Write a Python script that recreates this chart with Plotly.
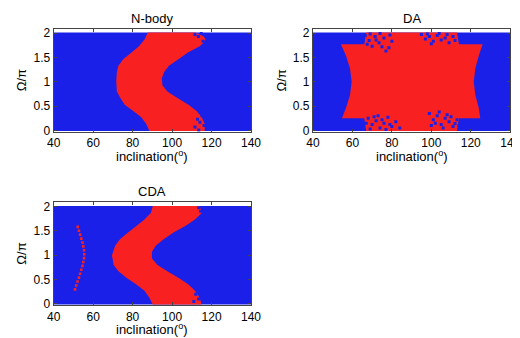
import plotly.graph_objects as go

BLUE = "#1a20e8"
RED = "#f82020"

# grid extent (inclination deg, Omega/pi)
INC_LIM = [40, 140]
OMEGA_LIM = [-0.01, 2.01]

# N-body: left / right edge of the red band
NB_OMEGA_L = [-0.01, 0.13, 0.27, 0.4, 0.53, 0.67, 0.8, 1.0, 1.2, 1.33, 1.47, 1.6, 1.73, 1.87, 2.01]
NB_LEFT = [88.5, 86.9, 84.4, 80.3, 76.0, 73.7, 72.0, 71.7, 72.0, 72.8, 75.3, 79.4, 83.2, 86.0, 87.7]
NB_OMEGA_R = [-0.01, 0.13, 0.27, 0.4, 0.53, 0.67, 0.8, 0.93, 1.07, 1.2, 1.33, 1.47, 1.6, 1.73, 1.8, 1.87, 1.93, 2.01]
NB_RIGHT = [116.5, 116.6, 115.0, 112.4, 108.3, 102.5, 97.6, 95.1, 94.8, 96.0, 98.4, 103.4, 108.0, 114.0, 116.0, 117.0, 116.0, 112.0]
NB_HOLE_INC = [112.9, 114.1, 115.2, 111.6, 116.2, 113.5, 113.3, 115.7, 111.6, 114.8]
NB_HOLE_OMEGA = [0.23, 0.17, 0.30, 0.07, 0.10, 0.01, 1.93, 1.83, 1.97, 1.99]

# DA: outline of the red region
DA_INC = [67, 66, 54.7, 56.8, 58.8, 59.6, 58.8, 56.8, 54.2, 66, 67,
          113, 114, 126, 124, 122.3, 121.5, 122.3, 124, 124.8, 114, 113]
DA_OMEGA = [-0.01, 0.25, 0.25, 0.47, 0.73, 1.0, 1.27, 1.53, 1.77, 1.77, 2.01,
            2.01, 1.77, 1.77, 1.53, 1.27, 1.0, 0.73, 0.47, 0.25, 0.25, -0.01]
DA_HOLE_INC = [66.5, 68.5, 71.5, 73.5, 76, 70, 78.5, 67.5, 74, 80, 77, 65.5, 72, 79, 69, 75,
               95, 97, 99, 101, 103, 105, 107, 109, 111, 100, 104, 108, 112, 98,
               68, 70, 72, 74, 76, 78, 80, 82, 69, 73, 77, 71, 75, 79, 84, 67,
               99, 101, 103, 105, 107, 109, 111, 113, 100, 104, 106, 108, 110, 102, 112, 114]
DA_HOLE_OMEGA = [1.95, 1.85, 1.93, 1.80, 1.90, 1.73, 1.70, 1.77, 1.99, 1.83, 1.63, 1.85, 1.86, 1.96, 1.98, 1.72,
                 1.97, 1.88, 1.93, 1.83, 1.95, 1.86, 1.90, 1.80, 1.93, 1.78, 1.99, 1.97, 1.85, 1.98,
                 0.25, 0.12, 0.20, 0.05, 0.15, 0.27, 0.08, 0.18, 0.03, 0.30, 0.02, 0.28, 0.22, 0.12, 0.05, 0.15,
                 0.35, 0.22, 0.30, 0.12, 0.25, 0.18, 0.08, 0.22, 0.10, 0.38, 0.05, 0.32, 0.28, 0.15, 0.14, 0.10]

# CDA: left / right edge of the red band, plus the thin arc
CDA_OMEGA_L = [-0.01, 0.13, 0.27, 0.4, 0.53, 0.67, 0.8, 1.0, 1.2, 1.33, 1.47, 1.6, 1.73, 1.87, 2.01]
CDA_LEFT = [90.2, 88.5, 86.0, 81.9, 77.0, 72.8, 70.4, 69.5, 71.2, 73.7, 77.8, 81.9, 86.0, 89.3, 90.2]
CDA_OMEGA_R = [-0.01, 0.13, 0.27, 0.4, 0.53, 0.67, 0.8, 0.93, 1.07, 1.2, 1.33, 1.47, 1.6, 1.73, 1.87, 2.01]
CDA_RIGHT = [115.0, 114.0, 111.6, 108.3, 103.4, 97.6, 92.6, 89.8, 89.8, 91.8, 95.9, 100.9, 106.7, 111.6, 115.2, 114.0]
CDA_HOLE_INC = [112.0, 113.5, 111.0, 114.5, 113.5, 114.5]
CDA_HOLE_OMEGA = [0.20, 0.10, 0.05, 0.25, 1.97, 1.90]
ARC_OMEGA = [0.3, 0.38, 0.46, 0.54, 0.62, 0.7, 0.78, 0.86, 0.94, 1.02, 1.1, 1.18, 1.26, 1.34, 1.42, 1.5, 1.58]
ARC_INC = [50.8, 51.4, 52.1, 52.8, 53.4, 54.0, 54.6, 55.0, 55.4, 55.5, 55.4, 55.0, 54.6, 54.0, 53.4, 52.8, 52.2]

fig = go.Figure()


def panel(n, polys, holes, extra=None):
    xa = "x" if n == 1 else "x%d" % n
    ya = "y" if n == 1 else "y%d" % n
    fig.add_trace(go.Scatter(x=[INC_LIM[0], INC_LIM[1], INC_LIM[1], INC_LIM[0]],
                             y=[OMEGA_LIM[0], OMEGA_LIM[0], OMEGA_LIM[1], OMEGA_LIM[1]],
                             fill="toself", fillcolor=BLUE, mode="none", xaxis=xa, yaxis=ya,
                             showlegend=False, hoverinfo="skip"))
    for px_, py_ in polys:
        fig.add_trace(go.Scatter(x=px_, y=py_, fill="toself", fillcolor=RED, mode="none",
                                 xaxis=xa, yaxis=ya, showlegend=False))
    fig.add_trace(go.Scatter(x=holes[0], y=holes[1], mode="markers", xaxis=xa, yaxis=ya,
                             marker=dict(symbol="square", size=3, color=BLUE), showlegend=False))
    if extra is not None:
        fig.add_trace(go.Scatter(x=extra[0], y=extra[1], mode="markers", xaxis=xa, yaxis=ya,
                                 marker=dict(symbol="square", size=2.6, color=RED), showlegend=False))


panel(1, [(NB_LEFT + NB_RIGHT[::-1], NB_OMEGA_L + NB_OMEGA_R[::-1])],
      (NB_HOLE_INC, NB_HOLE_OMEGA))
panel(2, [(DA_INC, DA_OMEGA)], (DA_HOLE_INC, DA_HOLE_OMEGA))
panel(3, [(CDA_LEFT + CDA_RIGHT[::-1], CDA_OMEGA_L + CDA_OMEGA_R[::-1])],
      (CDA_HOLE_INC, CDA_HOLE_OMEGA), (ARC_INC, ARC_OMEGA))

W, H = 520, 338
font = "Liberation Sans, Arial, sans-serif"
doms = {1: ((40, 244), (18.7, 124)), 2: ((308, 512), (18.7, 124)), 3: ((40, 244), (196.7, 302.3))}
titles = {1: "N-body", 2: "DA", 3: "CDA"}

axstyle = dict(showline=True, linecolor="#444", linewidth=1, mirror="allticks", ticks="inside",
               ticklen=3, tickcolor="#444", showgrid=False, zeroline=False,
               tickfont=dict(size=12, color="black", family=font))
lay = {}
ann = []
for n, ((x0, x1), (y0, y1)) in doms.items():
    sx = "" if n == 1 else str(n)
    lay["xaxis" + sx] = dict(axstyle, domain=[x0 / W, x1 / W], range=[40, 140], anchor="y" + sx,
                             tickvals=[40, 60, 80, 100, 120, 140])
    lay["yaxis" + sx] = dict(axstyle, domain=[1 - y1 / H, 1 - y0 / H], range=[-0.026, 2.08],
                             anchor="x" + sx, tickvals=[0, 0.5, 1, 1.5, 2],
                             ticktext=["0", "0.5", "1", "1.5", "2"])
    xc = (x0 + x1) / 2
    ann.append(dict(text=titles[n], x=xc / W, y=1 - (y0 - 11.5) / H, xref="paper", yref="paper",
                    showarrow=False, font=dict(size=13, family=font, color="black"),
                    xanchor="center", yanchor="middle"))
    ann.append(dict(text="inclination(<sup>o</sup>)", x=xc / W, y=1 - (y1 + 35) / H,
                    xref="paper", yref="paper", showarrow=False,
                    font=dict(size=13, family=font, color="black"),
                    xanchor="center", yanchor="bottom"))
    ann.append(dict(text="Ω/π", x=(x0 - 33) / W, y=1 - (y0 + y1) / 2 / H, xref="paper",
                    yref="paper", showarrow=False, textangle=-90,
                    font=dict(size=13, family=font, color="black"),
                    xanchor="center", yanchor="middle"))

fig.update_layout(width=W, height=H, margin=dict(l=0, r=0, t=0, b=0),
                  plot_bgcolor="white", paper_bgcolor="white", annotations=ann, **lay)
fig.write_html("out.html")
